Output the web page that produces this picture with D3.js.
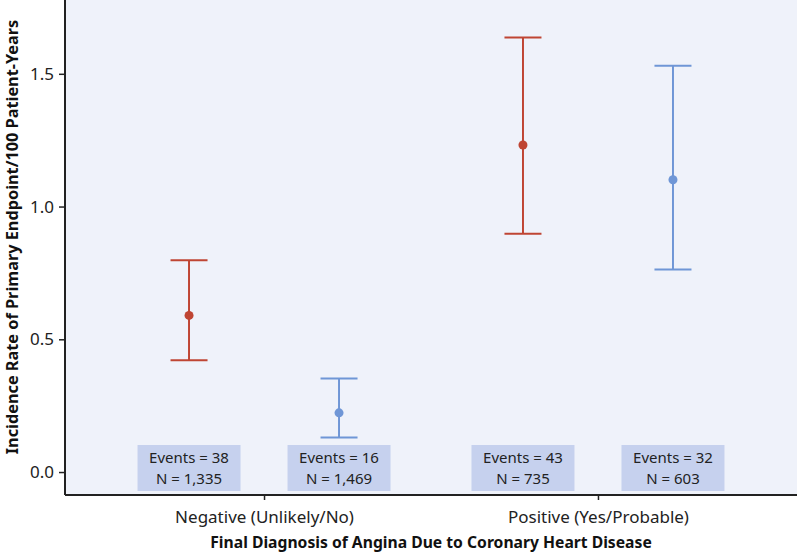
<!DOCTYPE html>
<html>
<head>
<meta charset="utf-8">
<script src="https://cdn.jsdelivr.net/npm/d3@7"></script>
<style>
  body { margin: 0; background: #fff; }
  svg { display: block; font-family: "Noto Sans", sans-serif; }
</style>
</head>
<body>
<div id="chart"></div>
<script>
// categories on the x axis
const categories = ["Negative (Unlikely/No)", "Positive (Yes/Probable)"];
// two series per category (red first, blue second)
const seriesNames = ["red", "blue"];
const rates = [[0.59, 0.223], [1.232, 1.101]];
const lower = [[0.421, 0.130], [0.898, 0.763]];
const upper = [[0.798, 0.352], [1.637, 1.530]];
const events = [[38, 16], [43, 32]];
const totals = [["1,335", "1,469"], ["735", "603"]];
const yTicks = [0.0, 0.5, 1.0, 1.5];

const width = 797, height = 553;
const margin = {top: 0, right: 0, bottom: 58, left: 65};
const colors = {red: "#bf4533", blue: "#6f96d6"};

const svg = d3.select("#chart").append("svg")
  .attr("width", width)
  .attr("height", height);

const innerW = width - margin.left - margin.right;
const innerH = height - margin.top - margin.bottom;

const g = svg.append("g")
  .attr("transform", "translate(" + margin.left + "," + margin.top + ")");

// plot background
g.append("rect")
  .attr("width", innerW)
  .attr("height", innerH)
  .attr("fill", "#eff2fa");

const x = d3.scalePoint()
  .domain(categories)
  .range([0, innerW])
  .padding(0.596);

const offset = d3.scalePoint()
  .domain(seriesNames)
  .range([-75, 75]);

const y = d3.scaleLinear()
  .domain([-0.0865, 1.778])
  .range([innerH, 0]);

// y axis
const yAxis = g.append("g")
  .call(d3.axisLeft(y).tickValues(yTicks).tickFormat(d3.format(".1f")).tickSize(6).tickPadding(5));
yAxis.select(".domain").attr("stroke", "#222").attr("stroke-width", 2).attr("d", "M0," + innerH + "V0");
yAxis.selectAll(".tick line").attr("stroke", "#222").attr("stroke-width", 1.5);
yAxis.selectAll(".tick text").attr("fill", "#222").style("font-size", "17px").style("font-family", "Noto Sans");

// x axis
const xAxis = g.append("g")
  .attr("transform", "translate(0," + innerH + ")")
  .call(d3.axisBottom(x).tickSize(5).tickPadding(11));
xAxis.select(".domain").attr("stroke", "#222").attr("stroke-width", 2).attr("d", "M0,0H" + innerW);
xAxis.selectAll(".tick line").attr("stroke", "#222").attr("stroke-width", 1.5);
xAxis.selectAll(".tick text").attr("fill", "#222").style("font-size", "17px").style("font-family", "Noto Sans");

// axis titles
svg.append("text")
  .attr("x", margin.left + (x(categories[0]) + x(categories[1])) / 2)
  .attr("y", 548)
  .attr("text-anchor", "middle")
  .attr("fill", "#111")
  .style("font-size", "15.7px")
  .style("font-weight", "bold")
  .text("Final Diagnosis of Angina Due to Coronary Heart Disease");

svg.append("text")
  .attr("transform", "translate(18,237) rotate(-90)")
  .attr("text-anchor", "middle")
  .attr("fill", "#111")
  .style("font-size", "16.3px")
  .style("font-weight", "bold")
  .text("Incidence Rate of Primary Endpoint/100 Patient-Years");

// flatten the data into points
const points = [];
categories.forEach((c, i) => {
  seriesNames.forEach((s, j) => {
    points.push({cat: c, series: s, rate: rates[i][j], lo: lower[i][j], hi: upper[i][j],
      events: events[i][j], n: totals[i][j]});
  });
});
const px = d => x(d.cat) + offset(d.series);

// annotation boxes
const boxes = g.append("g").selectAll("g").data(points).enter().append("g")
  .attr("transform", d => "translate(" + px(d) + "," + (innerH - 50) + ")");
boxes.append("rect")
  .attr("x", -51.5)
  .attr("width", 103)
  .attr("height", 46)
  .attr("fill", "#c6d1ee");
boxes.append("text")
  .attr("y", 18)
  .attr("text-anchor", "middle")
  .attr("fill", "#222")
  .style("font-size", "15px")
  .text(d => "Events = " + d.events);
boxes.append("text")
  .attr("y", 38.5)
  .attr("text-anchor", "middle")
  .attr("fill", "#222")
  .style("font-size", "15px")
  .text(d => "N = " + d.n);

// error bars
const bars = g.append("g").selectAll("g").data(points).enter().append("g")
  .attr("stroke", d => colors[d.series])
  .attr("fill", d => colors[d.series]);
bars.append("line")
  .attr("x1", px).attr("x2", px)
  .attr("y1", d => y(d.lo)).attr("y2", d => y(d.hi))
  .attr("stroke-width", 2);
bars.append("line")
  .attr("x1", d => px(d) - 18.5).attr("x2", d => px(d) + 18.5)
  .attr("y1", d => y(d.hi)).attr("y2", d => y(d.hi))
  .attr("stroke-width", 2);
bars.append("line")
  .attr("x1", d => px(d) - 18.5).attr("x2", d => px(d) + 18.5)
  .attr("y1", d => y(d.lo)).attr("y2", d => y(d.lo))
  .attr("stroke-width", 2);
bars.append("circle")
  .attr("cx", px)
  .attr("cy", d => y(d.rate))
  .attr("r", 4.5)
  .attr("stroke", "none");
</script>
</body>
</html>
